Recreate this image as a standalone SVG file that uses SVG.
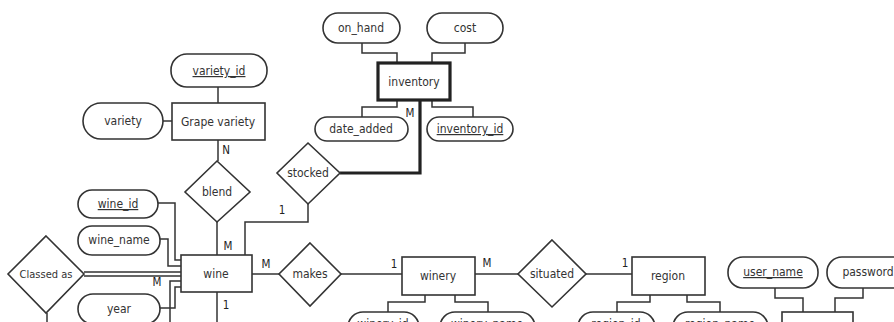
<svg xmlns="http://www.w3.org/2000/svg" width="894" height="322" viewBox="0 0 894 322">
<style>
.ent{fill:#fff;stroke:#333;stroke-width:1.6}
.weak{fill:#fff;stroke:#222;stroke-width:3.2}
.att{fill:#fff;stroke:#333;stroke-width:1.6}
.rel{fill:#fff;stroke:#333;stroke-width:1.6}
.ln{fill:none;stroke:#333;stroke-width:1.5}
.thick{fill:none;stroke:#222;stroke-width:3.2}
text{font-family:"DejaVu Sans Condensed","Liberation Sans",sans-serif;font-size:12px;fill:#333;text-anchor:middle}
.key{text-decoration:underline}
.card{font-size:11.5px;fill:#222}
</style>
<rect width="894" height="322" fill="#fff"/>
<g id="connectors">
<path class="ln" d="M218 87V103"/>
<path class="ln" d="M163 121H172"/>
<path class="ln" d="M218 140V161"/>
<path class="ln" d="M217 222V255"/>
<path class="ln" d="M308 204V222H245V255"/>
<path class="ln" d="M252 274H279"/>
<path class="ln" d="M341 274H402"/>
<path class="ln" d="M475 274H518"/>
<path class="ln" d="M586 274H632"/>
<path class="ln" d="M158 203H175V260H181"/>
<path class="ln" d="M160 239H168V266H181"/>
<path class="ln" d="M84 272H181M84 276H181"/>
<path class="ln" d="M181 281H170V322"/>
<path class="ln" d="M160 308H175V287H181"/>
<path class="ln" d="M217 292V322"/>
<path class="ln" d="M47 313V322"/>
<path class="ln" d="M362 43V53H397V63"/>
<path class="ln" d="M465 43V53H432V63"/>
<path class="ln" d="M397 100V107H362V117"/>
<path class="ln" d="M432 100V107H473V117"/>
<path class="thick" d="M420 100V173H340"/>
<path class="ln" d="M425 295V302H388V312"/>
<path class="ln" d="M455 295V302H488V312"/>
<path class="ln" d="M650 295V302H617V312"/>
<path class="ln" d="M687 295V302H720V312"/>
<path class="ln" d="M775 288V298H803V312"/>
<path class="ln" d="M863 288V298H835V312"/>
<text class="card" x="226" y="154">N</text>
<text class="card" x="228" y="250">M</text>
<text class="card" x="282" y="214">1</text>
<text class="card" x="266" y="268">M</text>
<text class="card" x="394" y="268">1</text>
<text class="card" x="487" y="267">M</text>
<text class="card" x="625" y="267">1</text>
<text class="card" x="410" y="117">M</text>
<text class="card" x="157" y="286">M</text>
<text class="card" x="226" y="309">1</text>
</g>
<g id="variety_id"><rect class="att" x="171" y="54" width="96" height="33" rx="16"/><text class="key" x="219" y="75">variety_id</text></g>
<g id="grape_variety"><rect class="ent" x="172" y="103" width="93" height="37"/><text x="218" y="126">Grape variety</text></g>
<g id="variety"><rect class="att" x="83" y="103" width="80" height="36" rx="18"/><text x="123" y="125">variety</text></g>
<g id="blend"><polygon class="rel" points="217,161 250,192 217,222 185,192"/><text x="217" y="196">blend</text></g>
<g id="on_hand"><rect class="att" x="323" y="13" width="77" height="30" rx="15"/><text x="361" y="32">on_hand</text></g>
<g id="cost"><rect class="att" x="427" y="13" width="76" height="30" rx="15"/><text x="465" y="32">cost</text></g>
<g id="inventory"><rect class="weak" x="378" y="63" width="72" height="37"/><text x="414" y="86">inventory</text></g>
<g id="date_added"><rect class="att" x="315" y="117" width="93" height="24" rx="12"/><text x="361" y="133">date_added</text></g>
<g id="inventory_id"><rect class="att" x="427" y="117" width="86" height="24" rx="12"/><text class="key" x="470" y="133">inventory_id</text></g>
<g id="stocked"><polygon class="rel" points="308,143 340,173 308,204 277,173"/><text x="308" y="177">stocked</text></g>
<g id="wine_id"><rect class="att" x="78" y="190" width="80" height="28" rx="14"/><text class="key" x="118" y="208">wine_id</text></g>
<g id="wine_name"><rect class="att" x="78" y="226" width="82" height="29" rx="14"/><text x="119" y="244">wine_name</text></g>
<g id="classed_as"><polygon class="rel" points="46,236 84,274 46,313 8,274"/><text x="46" y="278" style="font-size:11px">Classed as</text></g>
<g id="year"><rect class="att" x="78" y="294" width="82" height="30" rx="15"/><text x="119" y="313">year</text></g>
<g id="wine"><rect class="ent" x="181" y="255" width="71" height="37"/><text x="216" y="278">wine</text></g>
<g id="makes"><polygon class="rel" points="310,243 341,274 310,306 279,274"/><text x="310" y="278">makes</text></g>
<g id="winery"><rect class="ent" x="402" y="257" width="73" height="38"/><text x="438" y="280">winery</text></g>
<g id="situated"><polygon class="rel" points="552,240 586,274 552,307 518,274"/><text x="552" y="278">situated</text></g>
<g id="region"><rect class="ent" x="632" y="257" width="73" height="38"/><text x="668" y="280">region</text></g>
<g id="user_name"><rect class="att" x="728" y="257" width="90" height="31" rx="15"/><text class="key" x="773" y="276">user_name</text></g>
<g id="password"><rect class="att" x="827" y="257" width="90" height="31" rx="15"/><text x="868" y="276">password</text></g>
<g id="winery_id"><rect class="att" x="348" y="312" width="71" height="30" rx="15"/><text class="key" x="383" y="328">winery_id</text></g>
<g id="winery_name"><rect class="att" x="440" y="312" width="95" height="30" rx="15"/><text x="487" y="328">winery_name</text></g>
<g id="region_id"><rect class="att" x="578" y="312" width="77" height="30" rx="15"/><text class="key" x="616" y="328">region_id</text></g>
<g id="region_name"><rect class="att" x="673" y="312" width="95" height="30" rx="15"/><text x="720" y="328">region_name</text></g>
<g id="users"><rect class="ent" x="782" y="312" width="71" height="38"/></g>
</svg>
